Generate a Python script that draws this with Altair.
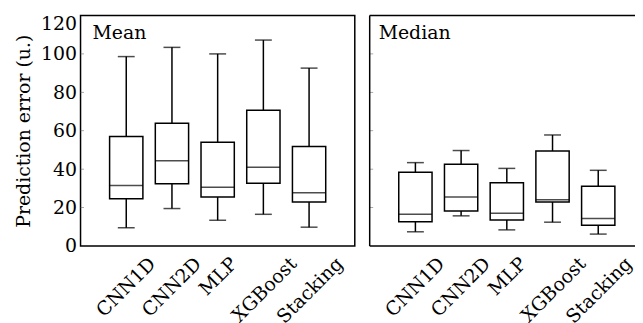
import altair as alt
import pandas as pd

# ---------------- data ----------------
models = ["CNN1D", "CNN2D", "MLP", "XGBoost", "Stacking"]

mean_low = [9.5, 19.5, 13.4, 16.5, 9.8]
mean_q1 = [24.6, 32.4, 25.5, 32.7, 22.9]
mean_med = [31.5, 44.4, 30.6, 41.0, 27.7]
mean_q3 = [57.0, 63.9, 54.0, 70.7, 51.8]
mean_high = [98.6, 103.4, 100.0, 107.2, 92.6]

median_low = [7.4, 15.7, 8.4, 12.4, 6.2]
median_q1 = [12.6, 18.2, 13.6, 22.9, 10.8]
median_med = [16.5, 25.5, 17.0, 24.1, 14.3]
median_q3 = [38.4, 42.5, 32.9, 49.4, 31.1]
median_high = [43.4, 49.7, 40.4, 57.8, 39.4]

y_ticks = [0, 20, 40, 60, 80, 100, 120]
y_title = "Prediction error (u.)"

# ---------------- styling ----------------
FONT = "DejaVu Serif"
FS = 19
W, H = 276, 232
BOX = 33.5
CAP = 17
LW = 1.5

label_shift_expr = ("datum.value === 'MLP' ? 10.2 : datum.value === 'XGBoost' ? 24.0 : "
                    "datum.value === 'Stacking' ? 24.5 : 20.0")


def panel(title, low, q1, med, q3, high, show_y, title_x):
    df = pd.DataFrame({"model": models, "low": low, "q1": q1, "med": med,
                       "q3": q3, "high": high})
    base = alt.Chart(df)
    xenc = alt.X("model:N", sort=models, title=None,
                 scale=alt.Scale(type="band", paddingInner=0, paddingOuter=0.5),
                 axis=alt.Axis(labelAngle=-45, labelAlign="right", labelBaseline="top",
                               labelPadding=8, ticks=False, tickSize=0, domain=False,
                               labelFont=FONT, labelFontSize=FS, labelColor="black",
                               labelOffset=alt.ExprRef(expr=label_shift_expr)))
    yscale = alt.Scale(domain=[0, 120], nice=False, zero=True)
    if show_y:
        yaxis = alt.Axis(values=y_ticks, title=y_title, titleFont=FONT, titleFontSize=FS,
                         titleFontWeight="normal", titleColor="black", titlePadding=7,
                         labelFont=FONT, labelFontSize=FS, labelColor="black",
                         labelPadding=4, ticks=False, tickSize=0, domain=False,
                         grid=False,
                         labelOffset=alt.ExprRef(expr="datum.value === 120 ? 8 : 0"))
    else:
        yaxis = None

    whisk = base.mark_rule(color="black", strokeWidth=LW).encode(
        x=xenc, y=alt.Y("low:Q", scale=yscale, axis=yaxis), y2="high:Q")
    box = base.mark_bar(size=BOX, fill="white", stroke="black", strokeWidth=LW).encode(
        x=xenc, y=alt.Y("q1:Q", scale=yscale, axis=yaxis), y2="q3:Q")
    medt = base.mark_tick(size=BOX, thickness=LW, color="black").encode(
        x=xenc, y=alt.Y("med:Q", scale=yscale, axis=yaxis))
    caplo = base.mark_tick(size=CAP, thickness=LW, color="black").encode(
        x=xenc, y=alt.Y("low:Q", scale=yscale, axis=yaxis))
    caphi = base.mark_tick(size=CAP, thickness=LW, color="black").encode(
        x=xenc, y=alt.Y("high:Q", scale=yscale, axis=yaxis))
    # inward y ticks (as in the reference)
    ticks = alt.Chart(pd.DataFrame({"v": y_ticks[1:-1]})).mark_tick(
        orient="horizontal", size=3.5, thickness=0.8, color="#666"
    ).encode(y=alt.Y("v:Q", scale=yscale, axis=yaxis), x=alt.value(1.75))
    ttl = alt.Chart(pd.DataFrame({"t": [title]})).mark_text(
        font=FONT, fontSize=FS, align="left", baseline="alphabetic", color="black"
    ).encode(text="t:N", x=alt.value(title_x), y=alt.value(24))
    layers = [whisk, box, medt, caplo, caphi, ticks, ttl]
    if show_y:
        view = alt.ViewBackground(stroke="black", strokeWidth=LW)
    else:
        # frame whose right side lies beyond the picture's edge
        view = alt.ViewBackground(stroke=None)
        one = pd.DataFrame({"k": [0]})
        frame = alt.Chart(one).mark_rule(color="black", strokeWidth=LW)
        layers += [
            frame.encode(x=alt.value(0), x2=alt.value(W), y=alt.value(0)),
            frame.encode(x=alt.value(0), x2=alt.value(W), y=alt.value(H)),
            frame.encode(x=alt.value(0), y=alt.value(0), y2=alt.value(H)),
        ]
    return alt.layer(*layers).properties(width=W, height=H, view=view)


left = panel("Mean", mean_low, mean_q1, mean_med, mean_q3, mean_high, True, 12)
right = panel("Median", median_low, median_q1, median_med, median_q3, median_high, False, 9)

chart = alt.hconcat(left, right, spacing=13).properties(
    padding={"left": 5, "top": 4.5, "right": -10, "bottom": 0}
).configure(font=FONT, background="white")

chart.save("out.html", embed_options={"renderer": "svg", "actions": False})
